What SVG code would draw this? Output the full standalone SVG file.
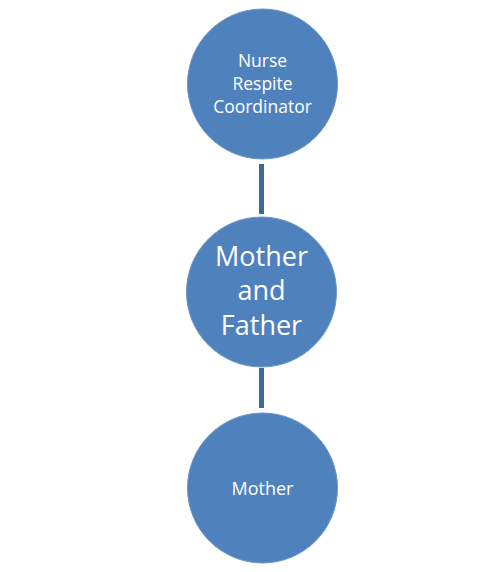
<svg xmlns="http://www.w3.org/2000/svg" width="502" height="572" viewBox="0 0 502 572">
<style>
.node{fill:#4F81BD;stroke:#6E96C8;stroke-width:1}
.lbl{fill:#FFFFFF;font-family:"Open Sans","Liberation Sans",sans-serif;text-anchor:middle}
.conn{stroke:#3F6797;stroke-width:5;fill:none}
</style>
<rect width="502" height="572" fill="#FFFFFF"/>
<g id="connectors">
<line class="conn" x1="261.5" y1="164" x2="261.5" y2="214"/>
<line class="conn" x1="261.5" y1="368" x2="261.5" y2="408"/>
</g>
<g id="node-nurse">
<circle class="node" cx="262.5" cy="84" r="75"/>
<text class="lbl" font-size="17.5" x="262.5" y="67">Nurse</text>
<text class="lbl" font-size="17.5" x="262.5" y="90">Respite</text>
<text class="lbl" font-size="17.5" x="262.5" y="113">Coordinator</text>
</g>
<g id="node-parents">
<circle class="node" cx="261.5" cy="292" r="75"/>
<text class="lbl" font-size="27" x="261.5" y="266">Mother</text>
<text class="lbl" font-size="27" x="261.5" y="300">and</text>
<text class="lbl" font-size="27" x="261.5" y="335">Father</text>
</g>
<g id="node-mother">
<circle class="node" cx="262.5" cy="488" r="75"/>
<text class="lbl" font-size="18" x="262.5" y="495">Mother</text>
</g>
</svg>
